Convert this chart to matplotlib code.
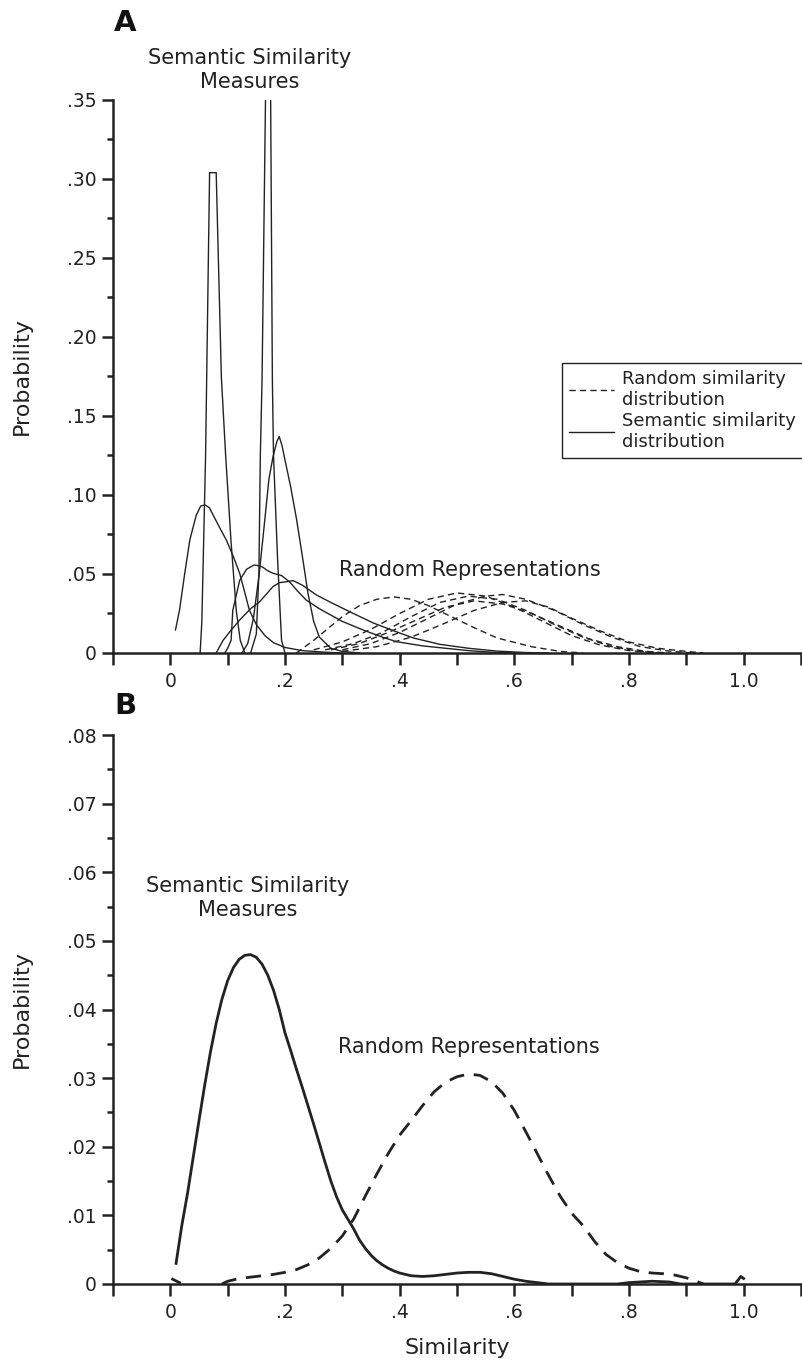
import matplotlib
matplotlib.use('Agg')
import matplotlib.pyplot as plt
from matplotlib.ticker import MultipleLocator
from matplotlib.lines import Line2D

ink = '#222222'

# ---- panel A: semantic similarity distributions (solid) ----
sem_a1_x = [0.052, 0.055, 0.0615, 0.0685, 0.080, 0.089, 0.0965, 0.106, 0.115, 0.122, 0.130]
sem_a1_y = [0.000, 0.020, 0.125, 0.304, 0.304, 0.175, 0.125, 0.070, 0.027, 0.008, 0.000]

sem_a2_x = [0.140, 0.150, 0.1545, 0.157, 0.160, 0.166, 0.168, 0.174, 0.175, 0.178, 0.180, 0.187, 0.194, 0.200]
sem_a2_y = [0.000, 0.012, 0.050, 0.125, 0.173, 0.350, 0.400, 0.400, 0.350, 0.173, 0.125, 0.060, 0.008, 0.000]

sem_a3_x = [0.125, 0.135, 0.145, 0.155, 0.165, 0.172, 0.179, 0.186, 0.190, 0.195, 0.1995, 0.210, 0.220,
            0.230, 0.240, 0.250, 0.260, 0.280, 0.300, 0.330]
sem_a3_y = [0.000, 0.006, 0.022, 0.050, 0.085, 0.110, 0.124, 0.134, 0.137, 0.131, 0.123, 0.105, 0.085,
            0.062, 0.038, 0.020, 0.010, 0.003, 0.001, 0.000]

sem_a4_x = [0.009, 0.016, 0.025, 0.034, 0.045, 0.053, 0.0605, 0.068, 0.078, 0.088, 0.0977, 0.110, 0.121,
            0.130, 0.138, 0.150, 0.165, 0.180, 0.200, 0.230, 0.270, 0.300]
sem_a4_y = [0.0146, 0.027, 0.050, 0.0715, 0.087, 0.093, 0.0937, 0.092, 0.085, 0.078, 0.0715, 0.061, 0.0504,
            0.038, 0.027, 0.018, 0.011, 0.0065, 0.0035, 0.0015, 0.0005, 0.000]

sem_a5_x = [0.095, 0.100, 0.106, 0.109, 0.121, 0.133, 0.146, 0.155, 0.161, 0.168, 0.178, 0.194, 0.208,
            0.220, 0.237, 0.260, 0.280, 0.300, 0.336, 0.370, 0.394, 0.440, 0.480, 0.520, 0.560, 0.600]
sem_a5_y = [0.000, 0.003, 0.008, 0.027, 0.046, 0.053, 0.0557, 0.0552, 0.0544, 0.0525, 0.0506, 0.049, 0.045,
            0.040, 0.0335, 0.028, 0.024, 0.020, 0.0146, 0.010, 0.0072, 0.0045, 0.003, 0.0015, 0.0005, 0.000]

sem_a6_x = [0.080, 0.092, 0.105, 0.121, 0.140, 0.156, 0.179, 0.190, 0.2024, 0.214, 0.230, 0.255, 0.280,
            0.313, 0.354, 0.390, 0.424, 0.470, 0.520, 0.570, 0.620, 0.660]
sem_a6_y = [0.000, 0.008, 0.014, 0.0209, 0.028, 0.0325, 0.042, 0.0445, 0.0451, 0.0458, 0.043, 0.0367, 0.032,
            0.0261, 0.019, 0.014, 0.0095, 0.0055, 0.003, 0.0012, 0.0003, 0.000]

# ---- panel A: random similarity distributions (dashed) ----
rand_a1_x = [0.22, 0.25, 0.28, 0.30, 0.33, 0.36, 0.39, 0.42, 0.45, 0.49, 0.53, 0.57, 0.63, 0.68, 0.72]
rand_a1_y = [0.000, 0.008, 0.017, 0.023, 0.030, 0.034, 0.0355, 0.034, 0.030, 0.023, 0.016, 0.0095, 0.004, 0.001, 0.000]

rand_a2_x = [0.25, 0.30, 0.35, 0.40, 0.45, 0.50, 0.55, 0.60, 0.65, 0.70, 0.75, 0.80, 0.85]
rand_a2_y = [0.002, 0.007, 0.015, 0.025, 0.034, 0.038, 0.036, 0.029, 0.020, 0.011, 0.005, 0.0015, 0.000]

rand_a3_x = [0.27, 0.32, 0.37, 0.42, 0.47, 0.52, 0.57, 0.62, 0.67, 0.72, 0.77, 0.82, 0.86]
rand_a3_y = [0.002, 0.006, 0.013, 0.023, 0.032, 0.036, 0.034, 0.027, 0.018, 0.010, 0.004, 0.001, 0.000]

rand_a4_x = [0.28, 0.33, 0.38, 0.43, 0.48, 0.53, 0.58, 0.63, 0.68, 0.73, 0.78, 0.83, 0.87]
rand_a4_y = [0.002, 0.006, 0.013, 0.021, 0.029, 0.033, 0.031, 0.025, 0.017, 0.009, 0.004, 0.001, 0.000]

rand_a5_x = [0.30, 0.35, 0.40, 0.45, 0.50, 0.55, 0.58, 0.62, 0.67, 0.72, 0.77, 0.82, 0.87, 0.91]
rand_a5_y = [0.002, 0.006, 0.013, 0.022, 0.031, 0.036, 0.037, 0.034, 0.027, 0.018, 0.010, 0.004, 0.0012, 0.000]

rand_a6_x = [0.30, 0.36, 0.42, 0.48, 0.53, 0.58, 0.62, 0.66, 0.70, 0.75, 0.80, 0.85, 0.90, 0.93]
rand_a6_y = [0.001, 0.004, 0.010, 0.019, 0.027, 0.032, 0.033, 0.029, 0.022, 0.014, 0.007, 0.003, 0.001, 0.000]

# ---- panel B: averaged distributions ----
sem_b_x = [0.01, 0.02, 0.03, 0.04, 0.05, 0.06, 0.07, 0.08, 0.09, 0.10, 0.11, 0.12, 0.13, 0.14, 0.15,
           0.16, 0.17, 0.18, 0.19, 0.20, 0.21, 0.22, 0.23, 0.24, 0.25, 0.26, 0.27, 0.28, 0.29, 0.30,
           0.31, 0.32, 0.33, 0.34, 0.35, 0.36, 0.37, 0.38, 0.39, 0.40, 0.42, 0.44, 0.46, 0.48, 0.50,
           0.52, 0.54, 0.56, 0.58, 0.60, 0.62, 0.64, 0.66, 0.70, 0.75, 0.78, 0.80, 0.82, 0.84, 0.87,
           0.89, 0.95, 0.985, 0.995, 1.0]
sem_b_y = [0.0030, 0.0085, 0.0132, 0.0185, 0.0238, 0.0290, 0.0338, 0.0380, 0.0415, 0.0442, 0.0461, 0.0473,
           0.0479, 0.0480, 0.0476, 0.0466, 0.0450, 0.0428, 0.0400, 0.0366, 0.0340, 0.0313, 0.0287, 0.0260,
           0.0233, 0.0205, 0.0177, 0.0150, 0.0127, 0.0108, 0.0094, 0.0080, 0.0064, 0.0052, 0.0042, 0.0034,
           0.0028, 0.0023, 0.0019, 0.0016, 0.0012, 0.0011, 0.0012, 0.0014, 0.0016, 0.0017, 0.0017, 0.0015,
           0.0011, 0.0007, 0.0004, 0.0002, 0.0000, 0.0000, 0.0000, 0.0000, 0.0002, 0.0003, 0.0004, 0.0003,
           0.0000, 0.0000, 0.0000, 0.0011, 0.0008]

rand_b_x = [0.09, 0.10, 0.12, 0.14, 0.16, 0.18, 0.20, 0.22, 0.24, 0.26, 0.28, 0.30, 0.32, 0.34, 0.36,
            0.38, 0.40, 0.42, 0.44, 0.46, 0.48, 0.50, 0.52, 0.54, 0.56, 0.58, 0.60, 0.62, 0.64, 0.66,
            0.68, 0.70, 0.72, 0.74, 0.76, 0.78, 0.80, 0.82, 0.84, 0.86, 0.88, 0.90, 0.92, 0.93]
rand_b_y = [0.0000, 0.0004, 0.0008, 0.0010, 0.0012, 0.0014, 0.0017, 0.0021, 0.0028, 0.0038, 0.0052, 0.0070,
            0.0095, 0.0128, 0.0160, 0.0190, 0.0217, 0.0238, 0.0260, 0.0280, 0.0294, 0.0302, 0.0306, 0.0304,
            0.0295, 0.0278, 0.0253, 0.0222, 0.0190, 0.0158, 0.0128, 0.0103, 0.0085, 0.0062, 0.0043, 0.0031,
            0.0023, 0.0018, 0.0016, 0.0015, 0.0013, 0.0009, 0.0003, 0.0000]
rand_b0_x = [0.004, 0.016]
rand_b0_y = [0.0007, 0.0002]

x_ticks = [-0.1, 0.0, 0.1, 0.2, 0.3, 0.4, 0.5, 0.6, 0.7, 0.8, 0.9, 1.0, 1.1]
x_labels = ['', '0', '', '.2', '', '.4', '', '.6', '', '.8', '', '1.0', '']
ya_ticks = [0.0, 0.05, 0.10, 0.15, 0.20, 0.25, 0.30, 0.35]
ya_labels = ['0', '.05', '.10', '.15', '.20', '.25', '.30', '.35']
yb_ticks = [0.0, 0.01, 0.02, 0.03, 0.04, 0.05, 0.06, 0.07, 0.08]
yb_labels = ['0', '.01', '.02', '.03', '.04', '.05', '.06', '.07', '.08']

plt.rcParams['font.family'] = ['DejaVu Sans']

fig = plt.figure(figsize=(8.03, 13.62), dpi=100)
ax_a = fig.add_axes([0.1407, 0.52056, 0.8568, 0.40602])
ax_b = fig.add_axes([0.1407, 0.05727, 0.8568, 0.40308])


def style_axis(ax, yticks, ylabels, yminor, ytop):
    for side in ['top', 'right']:
        ax.spines[side].set_visible(False)
    for side in ['left', 'bottom']:
        ax.spines[side].set_linewidth(1.8)
        ax.spines[side].set_color(ink)
    ax.set_xlim(-0.1, 1.1)
    ax.set_ylim(0, ytop)
    ax.set_xticks(x_ticks)
    ax.set_xticklabels(x_labels)
    ax.set_yticks(yticks)
    ax.set_yticklabels(ylabels)
    ax.yaxis.set_minor_locator(MultipleLocator(yminor))
    ax.tick_params(axis='x', which='major', length=8.5, width=1.8, pad=5, color=ink,
                   labelsize=13.5, labelcolor=ink)
    ax.tick_params(axis='y', which='major', length=8, width=1.8, pad=3.5, color=ink,
                   labelsize=13.5, labelcolor=ink)
    ax.tick_params(axis='y', which='minor', length=4.5, width=1.8, color=ink)
    ax.set_ylabel('Probability', fontsize=16, color=ink, va='center')
    ax.yaxis.set_label_coords(-0.132, 0.5)


style_axis(ax_a, ya_ticks, ya_labels, 0.025, 0.35)
style_axis(ax_b, yb_ticks, yb_labels, 0.005, 0.08)

# panel A curves
thin = 1.0
dash_a = (0, (4.5, 3))
for xs, ys in [(rand_a1_x, rand_a1_y), (rand_a2_x, rand_a2_y), (rand_a3_x, rand_a3_y),
               (rand_a4_x, rand_a4_y), (rand_a5_x, rand_a5_y), (rand_a6_x, rand_a6_y)]:
    ax_a.plot(xs, ys, color=ink, lw=thin, linestyle=dash_a)
for xs, ys in [(sem_a1_x, sem_a1_y), (sem_a2_x, sem_a2_y), (sem_a3_x, sem_a3_y),
               (sem_a4_x, sem_a4_y), (sem_a5_x, sem_a5_y), (sem_a6_x, sem_a6_y)]:
    ax_a.plot(xs, ys, color=ink, lw=thin)

ax_a.text(0.138, 0.369, 'Semantic Similarity\nMeasures', ha='center', va='center',
          fontsize=15, color=ink, linespacing=1.25, clip_on=False)
ax_a.text(0.523, 0.0525, 'Random Representations', ha='center', va='center', fontsize=15, color=ink)

handles = [Line2D([], [], color=ink, lw=thin, linestyle=dash_a),
           Line2D([], [], color=ink, lw=thin)]
leg = ax_a.legend(handles, ['Random similarity\ndistribution', 'Semantic similarity\ndistribution'],
                  loc='upper left', bbox_to_anchor=(0.6526, 0.5244), borderaxespad=0,
                  fontsize=13, handlelength=2.5, handletextpad=0.4, borderpad=0.4,
                  labelspacing=0.15, fancybox=False, framealpha=1, edgecolor=ink)
leg.get_frame().set_linewidth(1.0)
for t in leg.get_texts():
    t.set_color(ink)

# panel B curves
ax_b.plot(rand_b_x, rand_b_y, color=ink, lw=2.0, linestyle=(0, (5.5, 3.5)))
ax_b.plot(rand_b0_x, rand_b0_y, color=ink, lw=2.0)
ax_b.plot(sem_b_x, sem_b_y, color=ink, lw=2.0)

ax_b.text(0.135, 0.0563, 'Semantic Similarity\nMeasures', ha='center', va='center',
          fontsize=15, color=ink, linespacing=1.25)
ax_b.text(0.52, 0.0345, 'Random Representations', ha='center', va='center', fontsize=15, color=ink)
ax_b.set_xlabel('Similarity', fontsize=16, color=ink, va='center')
ax_b.xaxis.set_label_coords(0.5, -0.116)

fig.text(125 / 803, 1 - 23 / 1362, 'A', fontsize=21, fontweight='bold', color='#111111',
         ha='center', va='center')
fig.text(125 / 803, 1 - 706 / 1362, 'B', fontsize=21, fontweight='bold', color='#111111',
         ha='center', va='center')

plt.savefig('out.png', dpi=100)
